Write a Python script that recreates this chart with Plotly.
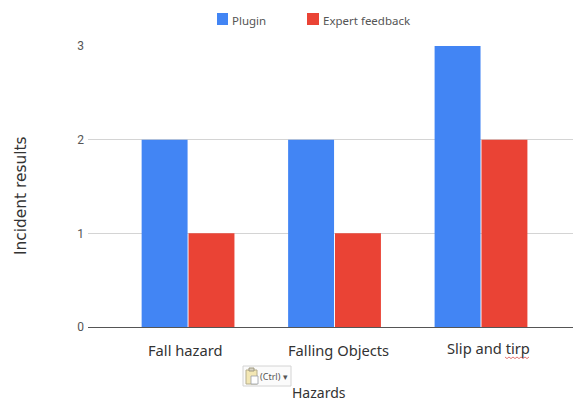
import plotly.graph_objects as go

hazards = ["Fall hazard", "Falling Objects", "Slip and tirp"]
plugin = [2, 2, 3]
expert_feedback = [1, 1, 2]
y_ticks = [0, 1, 2, 3]
series_names = ["Plugin", "Expert feedback"]
series_colors = ["#4285f4", "#ea4335"]

W, H = 573, 403
L, R, T, B = 88, 0, 46, 76


# Convert page pixels to paper fractions of the plot area
def px(x):
    return (x - L) / (W - L - R)


def py(y):
    return (H - B - y) / (H - T - B)


def pixel_rect(x0, y0, x1, y1, **style):
    return dict(type="rect", xref="paper", yref="paper",
                x0=px(x0), x1=px(x1), y0=py(y1), y1=py(y0), **style)


def page_text(text, x, y, size, color, family="Noto Sans", anchor="left", angle=0, vanchor="middle"):
    return dict(text=text, xref="paper", yref="paper", x=px(x), y=py(y), showarrow=False,
                xanchor=anchor, yanchor=vanchor, textangle=angle, borderpad=0,
                font=dict(family=family, size=size, color=color))


fig = go.Figure()
fig.add_bar(name=series_names[0], x=hazards, y=plugin, marker=dict(color=series_colors[0], line_width=0))
fig.add_bar(name=series_names[1], x=hazards, y=expert_feedback, marker=dict(color=series_colors[1], line_width=0))

# Spell-check underline beneath the misspelled label
squiggle_points = [(505 + i * 2, 357 + (i % 2) * 1.6) for i in range(13)]
squiggle_path = "M " + " L ".join(f"{px(x):.5f} {py(y):.5f}" for x, y in squiggle_points)

shapes = [
    dict(type="path", xref="paper", yref="paper", path=squiggle_path,
         line=dict(color="#d9534f", width=0.8)),
    # Legend swatches
    pixel_rect(217, 13, 228, 25, fillcolor=series_colors[0], line_width=0),
    pixel_rect(307, 13, 319, 25, fillcolor=series_colors[1], line_width=0),
    # Paste-options button and its clipboard icon
    pixel_rect(243, 366, 291, 386, line=dict(color="#d4d4d4", width=1), fillcolor="#fbfbfb"),
    pixel_rect(246, 370, 257, 384, line=dict(color="#b5ad8c", width=1), fillcolor="#f3e7b4"),
    pixel_rect(249, 368, 254, 371, line=dict(color="#a09a80", width=1), fillcolor="#d8d4c4"),
    pixel_rect(251, 376, 258, 384, line=dict(color="#9aa0a6", width=0.8), fillcolor="#ffffff"),
]

annotations = [
    page_text(series_names[0], 231, 20, 11.5, "#555555"),
    page_text(series_names[1], 322, 20, 11.5, "#555555"),
    page_text("(Ctrl) ▾", 259, 376, 9, "#555555"),
    page_text("Hazards", 319, 403, 14, "#333333", anchor="center", vanchor="bottom"),
    page_text("Incident results", 21, 196, 15.4, "#333333", family="DejaVu Sans", anchor="center", angle=-90),
]

# Category labels sit at their own slight offsets from the group centres
label_offsets = [-3, 3.5, 7.5]
label_rows = [349.5, 349.5, 348]
for hazard, offset, row in zip(hazards, label_offsets, label_rows):
    annotations.append(dict(
        text=hazard, xref="x", yref="paper", x=hazard, y=py(row), xshift=offset,
        showarrow=False, xanchor="center", yanchor="middle", borderpad=0,
        font=dict(family="Noto Sans", size=14.7, color="#333333"),
    ))

fig.update_layout(
    width=W, height=H, autosize=False,
    margin=dict(l=L, r=R, t=T, b=B, pad=0),
    paper_bgcolor="white", plot_bgcolor="white",
    barmode="group", bargap=0.36, bargroupgap=0.02,
    font=dict(family="Noto Sans", color="#444444"),
    showlegend=False,
    shapes=shapes, annotations=annotations,
    xaxis=dict(
        range=[-0.683, 2.628], showgrid=False, ticks="", showline=False, zeroline=False,
        showticklabels=False,
    ),
    yaxis=dict(
        range=[0, 3], tickmode="array", tickvals=y_ticks, showgrid=True, gridcolor="#d4d4d4", gridwidth=1,
        zeroline=True, zerolinecolor="#555555", zerolinewidth=1.2, showline=False, ticks="",
        tickfont=dict(family="Roboto", size=12, color="#555555"), ticklabelstandoff=3,
    ),
)

fig.write_html("out.html", config=dict(displayModeBar=False))
